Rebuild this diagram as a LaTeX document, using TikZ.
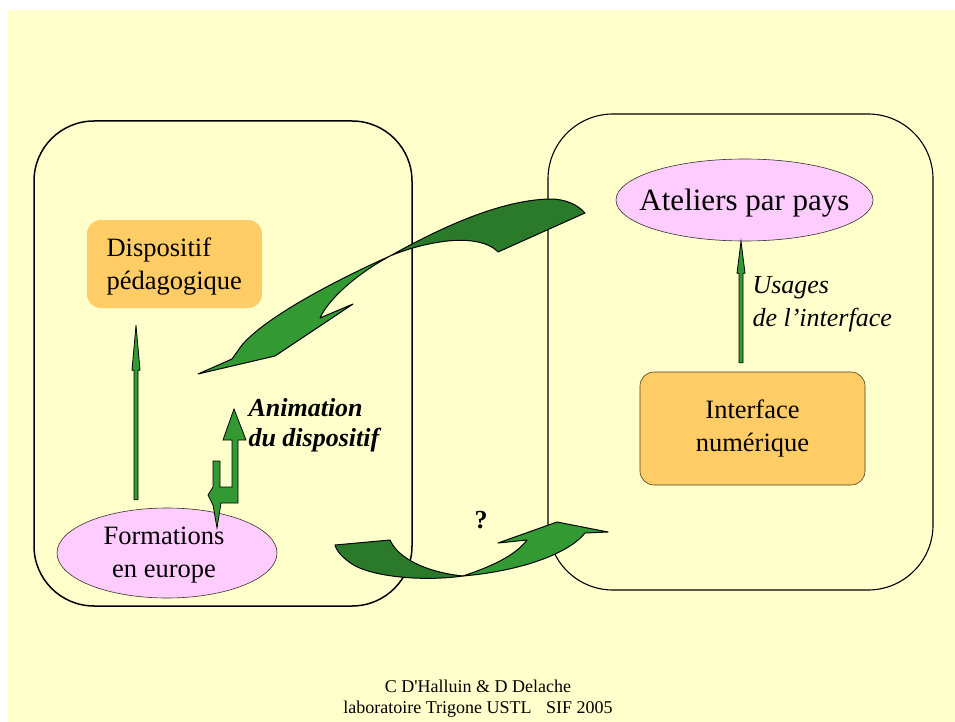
\documentclass[tikz,border=0pt]{standalone}
\usepackage{fontspec}
\setmainfont{Liberation Serif}
\newfontfamily\footfont{Liberation Serif}[Ligatures=TeXOff]
\usetikzlibrary{shapes.geometric,calc}
\definecolor{bgy}{HTML}{FFFFCC}
\definecolor{orbox}{HTML}{FFCC66}
\definecolor{pinkel}{HTML}{FFCCFF}
\definecolor{gl}{HTML}{339933}
\definecolor{gd}{HTML}{2A7A2A}
\tikzset{
  bigbox/.style={draw, rounded corners=60pt, inner sep=0pt},
  orangebox/.style={fill=orbox, rounded corners=14pt, inner sep=0pt, font=\fontsize{26.5}{33}\selectfont},
  pinkell/.style={ellipse, draw=black!80, line width=0.6pt, fill=pinkel, inner sep=0pt},
  label26/.style={align=center, font=\fontsize{26.5}{33}\selectfont},
  arrowshape/.style={fill=gl, draw=black, line width=0.8pt, line join=miter},
  ribbonlight/.style={fill=gl, draw=black, line width=1pt, line join=round},
  ribbondark/.style={fill=gd, draw=black, line width=1pt, line join=round},
}
\begin{document}
\begin{tikzpicture}[x=1pt,y=-1pt]
\useasboundingbox (0,0) rectangle (955,722);
\fill[white] (0,0) rectangle (955,722);
\fill[bgy] (8,10) rectangle (955,722);

% frames
\node[bigbox, line width=1.5pt, minimum width=378pt, minimum height=485pt] (lbox) at (223,363.5) {};
\node[bigbox, line width=1.1pt, rounded corners=65pt, minimum width=385pt, minimum height=476pt] (rbox) at (740.5,352) {};

% boxes
\node[orangebox, minimum width=175pt, minimum height=88pt] (disp) at (174.5,264) {};
\node[anchor=west, align=left, font=\fontsize{26.5}{33}\selectfont] (dispT) at (103,266.5) {Dispositif\\pédagogique};
\node[orangebox, align=center, draw=black!70!orbox, line width=0.6pt, minimum width=225pt, minimum height=113pt] (iface) at (752.5,428.5) {Interface\\numérique};

% ellipses
\node[pinkell, minimum width=257pt, minimum height=82pt] (ate) at (744.5,200) {};
\node[font=\fontsize{31}{34}\selectfont] (ateT) at (744.5,203) {Ateliers par pays};
\node[pinkell, minimum width=220pt, minimum height=90pt] (form) at (167,553) {};
\node[label26] (formT) at (164,555) {Formations\\en europe};

% thin vertical arrows
\coordinate (a1b) at ($(form.north)+(-31,-8)$);
\coordinate (a1t) at ($(disp.south)+(-38.5,17)$);
\filldraw[arrowshape] ($(a1b)+(-2,0)$) -- ($(a1t)+(-2,45)$) -- ($(a1t)+(-4,45)$) -- (a1t) -- ($(a1t)+(4,45)$) -- ($(a1t)+(2,45)$) -- ($(a1b)+(2,0)$) -- cycle;

\coordinate (a2b) at ($(iface.north)+(-11.5,-9)$);
\coordinate (a2t) at ($(ate.south)+(-3.5,0)$);
\filldraw[arrowshape] ($(a2b)+(-2,0)$) -- ($(a2t)+(-2,32)$) -- ($(a2t)+(-4,32)$) -- (a2t) -- ($(a2t)+(4,32)$) -- ($(a2t)+(2,32)$) -- ($(a2b)+(2,0)$) -- cycle;

% animation bent arrow
\filldraw[arrowshape] (234,409) -- (246,440) -- (238,440) -- (238,503) -- (221,503) -- (217,528) -- (213,505) -- (208,495) -- (213,487) -- (213,461) -- (220,461) -- (220,487) -- (232,487) -- (232,440) -- (223,440) -- cycle;

% labels
\node[anchor=west, align=left, font=\bfseries\itshape\fontsize{26}{30}\selectfont] (anim) at (245,425) {Animation\\du dispositif};
\node[anchor=west, align=left, font=\itshape\fontsize{26}{33}\selectfont] (usg) at (749,304) {Usages\\de l’interface};
\node[font=\bfseries\fontsize{26}{30}\selectfont] (q) at (481,520) {?};

% top ribbon arrow
\filldraw[ribbondark] (390,256) .. controls (440,228) and (500,200) .. (550,199) .. controls (566,199) and (578,205) .. (585,213) -- (498,252) .. controls (488,241) and (465,238) .. (440,242) .. controls (420,245) and (402,251) .. (390,256) -- cycle;
\filldraw[ribbonlight] (390,256) .. controls (330,283) and (265,318) .. (242,345) -- (232,359) -- (198,374) -- (275,356) -- (353,304) -- (320,318) .. controls (328,300) and (355,275) .. (390,256) -- cycle;

% bottom ribbon arrow
\filldraw[ribbondark] (335,545) -- (390,540) .. controls (398,558) and (425,572) .. (463,576) .. controls (420,582) and (370,576) .. (352,564) .. controls (343,558) and (337,552) .. (335,545) -- cycle;
\filldraw[ribbonlight] (463,576) .. controls (490,567) and (515,556) .. (527,540) -- (498,543) -- (557,522) -- (608,532) -- (585,533) .. controls (572,550) and (530,570) .. (463,576) -- cycle;

% footer
\node[anchor=base, font=\footfont\fontsize{18}{20}\selectfont] (f1) at (478,692) {C D'Halluin \& D Delache};
\node[anchor=base, font=\footfont\fontsize{18}{20}\selectfont] (f2) at (478,713) {laboratoire Trigone USTL\hspace{0.8em}SIF 2005};
\end{tikzpicture}
\end{document}
